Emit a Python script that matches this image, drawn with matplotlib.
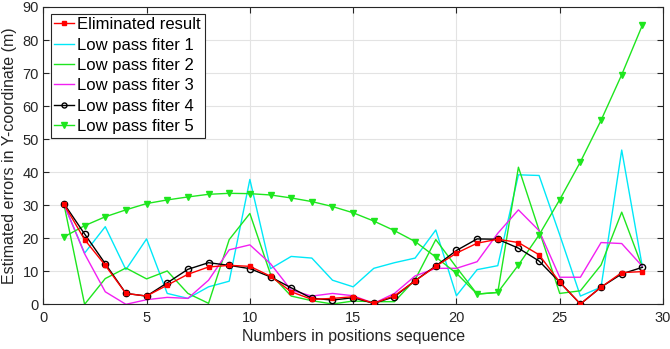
import numpy as np
import matplotlib
matplotlib.use("Agg")
from matplotlib import pyplot as plt

plt.rcParams["font.family"] = ["Liberation Sans", "DejaVu Sans"]

# position index along the track
seq = np.arange(1, 30)

eliminated = [30.3, 19.6, 11.8, 3.3, 2.5, 5.8, 9.1, 11.3, 11.8, 11.5,
              8.5, 3.8, 1.5, 1.8, 2.3, 0.3, 2.6, 7.1, 11.5, 15.5,
              18.5, 19.7, 18.7, 15.0, 6.7, 0.1, 5.2, 9.6, 9.9]
lpf1 = [30.3, 15.5, 23.5, 10.5, 19.8, 3.3, 1.8, 5.3, 7.0, 37.8,
        10.8, 14.5, 14.0, 7.3, 5.3, 10.9, 12.6, 14.0, 22.5, 2.6,
        10.5, 11.7, 39.2, 39.0, 21.0, 2.5, 5.2, 46.7, 11.3]
lpf2 = [30.3, 0.0, 7.8, 11.0, 7.7, 10.1, 3.3, 0.3, 19.6, 27.5,
        9.1, 2.5, 1.1, 0.1, 1.0, 0.8, 0.8, 7.5, 19.6, 11.2,
        3.1, 3.6, 41.5, 22.4, 3.3, 4.1, 11.9, 27.9, 11.2]
lpf3 = [30.3, 15.3, 3.8, 0.0, 1.4, 2.1, 1.8, 7.3, 16.5, 18.0,
        12.3, 4.3, 2.5, 3.3, 2.6, 0.3, 3.3, 8.6, 10.9, 10.9,
        12.9, 21.5, 28.6, 22.3, 8.2, 8.2, 18.7, 18.4, 11.5]
lpf4 = [30.5, 21.3, 12.3, 3.3, 2.5, 6.5, 10.6, 12.6, 11.8, 10.8,
        8.3, 5.0, 1.8, 1.3, 2.0, 0.3, 2.3, 7.2, 11.6, 16.3,
        19.8, 19.7, 17.0, 13.1, 6.7, 0.1, 5.2, 9.2, 11.2]
lpf5 = [20.4, 23.8, 26.5, 28.6, 30.5, 31.6, 32.5, 33.3, 33.6, 33.5,
        33.1, 32.2, 31.1, 29.6, 27.7, 25.2, 22.3, 19.0, 14.3, 9.4,
        3.1, 3.6, 11.9, 21.0, 31.7, 43.1, 55.7, 69.5, 84.5]

labels = ["Eliminated result", "Low pass fiter 1", "Low pass fiter 2",
          "Low pass fiter 3", "Low pass fiter 4", "Low pass fiter 5"]

cyan = "#00e8f8"
green = "#1ee61e"
magenta = "#f21ff2"
dark = "#262626"

fig = plt.figure(figsize=(6.7, 3.49), dpi=100)
ax = fig.add_axes([0.0646, 0.128, 0.925, 0.852])

h1, = ax.plot(seq, lpf1, color=cyan, lw=1.0, zorder=2)
h2, = ax.plot(seq, lpf2, color=green, lw=1.0, zorder=2)
h3, = ax.plot(seq, lpf3, color=magenta, lw=1.0, zorder=2)
h5, = ax.plot(seq, lpf5, color=green, lw=1.0, marker="v", ms=5,
              mfc=green, mec=green, zorder=3)
h4, = ax.plot(seq, lpf4, color="black", lw=1.0, marker="o", ms=4.5,
              mfc="none", mec="black", mew=1.0, zorder=4)
h0, = ax.plot(seq, eliminated, color="red", lw=1.0, marker="s", ms=3.5,
              mfc="red", mec="red", zorder=5)

ax.set_xlim(0, 30)
ax.set_ylim(0, 90)
ax.set_xticks(np.arange(0, 31, 5))
ax.set_yticks(np.arange(0, 91, 10))
ax.grid(True, color="#e3e3e3", lw=0.8)
ax.set_axisbelow(True)

for side in ax.spines.values():
    side.set_color(dark)
    side.set_linewidth(0.8)
ax.tick_params(direction="in", length=4, width=0.8, colors=dark,
               labelsize=10.5, top=True, right=True, pad=3)
ax.tick_params(axis="x", pad=5)

ax.set_xlabel("Numbers in positions sequence", fontsize=11.5, color=dark,
              labelpad=3)
ax.set_ylabel("Estimated errors in Y-coordinate (m)", fontsize=11.5,
              color=dark, labelpad=4)

leg = ax.legend([h0, h1, h2, h3, h4, h5], labels, loc="upper left",
                bbox_to_anchor=(0.012, 0.978), borderaxespad=0,
                fontsize=12, handlelength=1.2, handletextpad=0.18,
                labelspacing=0.32, borderpad=0.22, fancybox=False,
                framealpha=1, edgecolor=dark, markerscale=0.8)
leg.get_frame().set_linewidth(0.8)

fig.savefig("out.png", dpi=100)
